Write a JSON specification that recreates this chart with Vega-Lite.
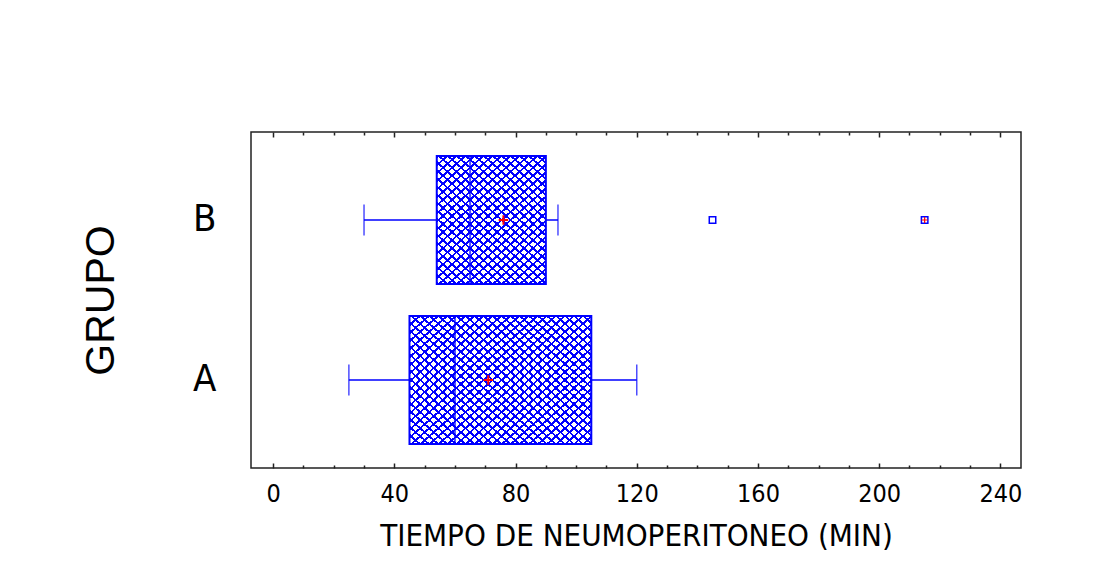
{
  "$schema": "https://vega.github.io/schema/vega-lite/v6.json",
  "width": 770,
  "height": 336,
  "autosize": {"type": "none"},
  "padding": {"left": 251, "top": 132, "right": 96, "bottom": 110},
  "background": "white",
  "config": {
    "view": {"stroke": "#222222", "strokeWidth": 1.5},
    "font": "Liberation Sans Narrow, Arial Narrow, DejaVu Sans Condensed, sans-serif"
  },
  "datasets": {
    "summary": [
      {"group": "A", "min": 25, "q1": 45, "median": 60, "q3": 105, "max": 120, "mean": 71},
      {"group": "B", "min": 30, "q1": 54, "median": 65, "q3": 90, "max": 94, "mean": 76}
    ],
    "outliers": [
      {"group": "B", "value": 145, "far": false},
      {"group": "B", "value": 215, "far": true}
    ]
  },
  "data": {"name": "summary"},
  "encoding": {
    "y": {
      "field": "group",
      "type": "nominal",
      "scale": {"domain": ["B", "A"], "paddingInner": 0.2, "paddingOuter": 0.15},
      "axis": {
        "title": "GRUPO",
        "titleFont": "Liberation Sans, Arial, sans-serif",
        "titleFontSize": 41,
        "titleFontWeight": "normal",
        "titleColor": "#000000",
        "titlePadding": 70,
        "labelFontSize": 38,
        "labelColor": "#000000",
        "labelPadding": 35,
        "labelAngle": 0,
        "ticks": false,
        "domain": false,
        "grid": false
      }
    }
  },
  "resolve": {"axis": {"x": "independent"}},
  "layer": [
    {
      "mark": {"type": "bar", "fill": "white", "stroke": null},
      "encoding": {
        "x": {
          "field": "q1", "type": "quantitative",
          "scale": {"domain": [-7.3, 246.8], "nice": false, "zero": false},
          "axis": {
            "orient": "bottom",
            "values": [0,10,20,30,40,50,60,70,80,90,100,110,120,130,140,150,160,170,180,190,200,210,220,230,240],
            "labelExpr": "datum.value % 40 === 0 ? datum.label : ''",
            "tickSize": {"condition": {"test": "datum.value % 40 === 0", "value": -5}, "value": -3},
            "tickColor": "#222222",
            "tickWidth": 1.5,
            "labelFontSize": 25,
            "labelColor": "#000000",
            "labelPadding": 18,
            "labelFlush": false,
            "domain": false,
            "grid": false,
            "title": "TIEMPO DE NEUMOPERITONEO (MIN)",
            "titleFontSize": 31,
            "titleFontWeight": "normal",
            "titleColor": "#000000",
            "titlePadding": 15
          }
        },
        "x2": {"field": "q3"}
      }
    },
    {
      "transform": [{"filter": "datum.group === 'A'"}],
      "mark": {"type": "bar", "stroke": null, "fill": {"gradient": "linear", "x1": 0, "y1": 0, "x2": 1.10, "y2": 0.872, "stops": [
        {"offset":0,"color":"#0000ff"},{"offset":0.0083,"color":"#0000ff"},{"offset":0.0083,"color":"transparent"},{"offset":0.0278,"color":"transparent"},
        {"offset":0.0278,"color":"#0000ff"},{"offset":0.0361,"color":"#0000ff"},{"offset":0.0361,"color":"transparent"},{"offset":0.0556,"color":"transparent"},
        {"offset":0.0556,"color":"#0000ff"},{"offset":0.0639,"color":"#0000ff"},{"offset":0.0639,"color":"transparent"},{"offset":0.0833,"color":"transparent"},
        {"offset":0.0833,"color":"#0000ff"},{"offset":0.0916,"color":"#0000ff"},{"offset":0.0916,"color":"transparent"},{"offset":0.1111,"color":"transparent"},
        {"offset":0.1111,"color":"#0000ff"},{"offset":0.1194,"color":"#0000ff"},{"offset":0.1194,"color":"transparent"},{"offset":0.1389,"color":"transparent"},
        {"offset":0.1389,"color":"#0000ff"},{"offset":0.1472,"color":"#0000ff"},{"offset":0.1472,"color":"transparent"},{"offset":0.1667,"color":"transparent"},
        {"offset":0.1667,"color":"#0000ff"},{"offset":0.175,"color":"#0000ff"},{"offset":0.175,"color":"transparent"},{"offset":0.1944,"color":"transparent"},
        {"offset":0.1944,"color":"#0000ff"},{"offset":0.2027,"color":"#0000ff"},{"offset":0.2027,"color":"transparent"},{"offset":0.2222,"color":"transparent"},
        {"offset":0.2222,"color":"#0000ff"},{"offset":0.2305,"color":"#0000ff"},{"offset":0.2305,"color":"transparent"},{"offset":0.25,"color":"transparent"},
        {"offset":0.25,"color":"#0000ff"},{"offset":0.2583,"color":"#0000ff"},{"offset":0.2583,"color":"transparent"},{"offset":0.2778,"color":"transparent"},
        {"offset":0.2778,"color":"#0000ff"},{"offset":0.2861,"color":"#0000ff"},{"offset":0.2861,"color":"transparent"},{"offset":0.3056,"color":"transparent"},
        {"offset":0.3056,"color":"#0000ff"},{"offset":0.3139,"color":"#0000ff"},{"offset":0.3139,"color":"transparent"},{"offset":0.3333,"color":"transparent"},
        {"offset":0.3333,"color":"#0000ff"},{"offset":0.3416,"color":"#0000ff"},{"offset":0.3416,"color":"transparent"},{"offset":0.3611,"color":"transparent"},
        {"offset":0.3611,"color":"#0000ff"},{"offset":0.3694,"color":"#0000ff"},{"offset":0.3694,"color":"transparent"},{"offset":0.3889,"color":"transparent"},
        {"offset":0.3889,"color":"#0000ff"},{"offset":0.3972,"color":"#0000ff"},{"offset":0.3972,"color":"transparent"},{"offset":0.4167,"color":"transparent"},
        {"offset":0.4167,"color":"#0000ff"},{"offset":0.425,"color":"#0000ff"},{"offset":0.425,"color":"transparent"},{"offset":0.4444,"color":"transparent"},
        {"offset":0.4444,"color":"#0000ff"},{"offset":0.4527,"color":"#0000ff"},{"offset":0.4527,"color":"transparent"},{"offset":0.4722,"color":"transparent"},
        {"offset":0.4722,"color":"#0000ff"},{"offset":0.4805,"color":"#0000ff"},{"offset":0.4805,"color":"transparent"},{"offset":0.5,"color":"transparent"},
        {"offset":0.5,"color":"#0000ff"},{"offset":0.5083,"color":"#0000ff"},{"offset":0.5083,"color":"transparent"},{"offset":0.5278,"color":"transparent"},
        {"offset":0.5278,"color":"#0000ff"},{"offset":0.5361,"color":"#0000ff"},{"offset":0.5361,"color":"transparent"},{"offset":0.5556,"color":"transparent"},
        {"offset":0.5556,"color":"#0000ff"},{"offset":0.5639,"color":"#0000ff"},{"offset":0.5639,"color":"transparent"},{"offset":0.5833,"color":"transparent"},
        {"offset":0.5833,"color":"#0000ff"},{"offset":0.5916,"color":"#0000ff"},{"offset":0.5916,"color":"transparent"},{"offset":0.6111,"color":"transparent"},
        {"offset":0.6111,"color":"#0000ff"},{"offset":0.6194,"color":"#0000ff"},{"offset":0.6194,"color":"transparent"},{"offset":0.6389,"color":"transparent"},
        {"offset":0.6389,"color":"#0000ff"},{"offset":0.6472,"color":"#0000ff"},{"offset":0.6472,"color":"transparent"},{"offset":0.6667,"color":"transparent"},
        {"offset":0.6667,"color":"#0000ff"},{"offset":0.675,"color":"#0000ff"},{"offset":0.675,"color":"transparent"},{"offset":0.6944,"color":"transparent"},
        {"offset":0.6944,"color":"#0000ff"},{"offset":0.7027,"color":"#0000ff"},{"offset":0.7027,"color":"transparent"},{"offset":0.7222,"color":"transparent"},
        {"offset":0.7222,"color":"#0000ff"},{"offset":0.7305,"color":"#0000ff"},{"offset":0.7305,"color":"transparent"},{"offset":0.75,"color":"transparent"},
        {"offset":0.75,"color":"#0000ff"},{"offset":0.7583,"color":"#0000ff"},{"offset":0.7583,"color":"transparent"},{"offset":0.7778,"color":"transparent"},
        {"offset":0.7778,"color":"#0000ff"},{"offset":0.7861,"color":"#0000ff"},{"offset":0.7861,"color":"transparent"},{"offset":0.8056,"color":"transparent"},
        {"offset":0.8056,"color":"#0000ff"},{"offset":0.8139,"color":"#0000ff"},{"offset":0.8139,"color":"transparent"},{"offset":0.8333,"color":"transparent"},
        {"offset":0.8333,"color":"#0000ff"},{"offset":0.8416,"color":"#0000ff"},{"offset":0.8416,"color":"transparent"},{"offset":0.8611,"color":"transparent"},
        {"offset":0.8611,"color":"#0000ff"},{"offset":0.8694,"color":"#0000ff"},{"offset":0.8694,"color":"transparent"},{"offset":0.8889,"color":"transparent"},
        {"offset":0.8889,"color":"#0000ff"},{"offset":0.8972,"color":"#0000ff"},{"offset":0.8972,"color":"transparent"},{"offset":0.9167,"color":"transparent"},
        {"offset":0.9167,"color":"#0000ff"},{"offset":0.925,"color":"#0000ff"},{"offset":0.925,"color":"transparent"},{"offset":0.9444,"color":"transparent"},
        {"offset":0.9444,"color":"#0000ff"},{"offset":0.9527,"color":"#0000ff"},{"offset":0.9527,"color":"transparent"},{"offset":0.9722,"color":"transparent"},
        {"offset":0.9722,"color":"#0000ff"},{"offset":0.9805,"color":"#0000ff"},{"offset":0.9805,"color":"transparent"},{"offset":1,"color":"transparent"}
      ]}},
      "encoding": {
        "x": {"field": "q1", "type": "quantitative", "scale": {"domain": [-7.3, 246.8], "nice": false, "zero": false}, "axis": null},
        "x2": {"field": "q3"}
      }
    },
    {
      "transform": [{"filter": "datum.group === 'A'"}],
      "mark": {"type": "bar", "stroke": null, "fill": {"gradient": "linear", "x1": 0, "y1": 1, "x2": 1.10, "y2": 0.128, "stops": [
        {"offset":0,"color":"#0000ff"},{"offset":0.0083,"color":"#0000ff"},{"offset":0.0083,"color":"transparent"},{"offset":0.0278,"color":"transparent"},
        {"offset":0.0278,"color":"#0000ff"},{"offset":0.0361,"color":"#0000ff"},{"offset":0.0361,"color":"transparent"},{"offset":0.0556,"color":"transparent"},
        {"offset":0.0556,"color":"#0000ff"},{"offset":0.0639,"color":"#0000ff"},{"offset":0.0639,"color":"transparent"},{"offset":0.0833,"color":"transparent"},
        {"offset":0.0833,"color":"#0000ff"},{"offset":0.0916,"color":"#0000ff"},{"offset":0.0916,"color":"transparent"},{"offset":0.1111,"color":"transparent"},
        {"offset":0.1111,"color":"#0000ff"},{"offset":0.1194,"color":"#0000ff"},{"offset":0.1194,"color":"transparent"},{"offset":0.1389,"color":"transparent"},
        {"offset":0.1389,"color":"#0000ff"},{"offset":0.1472,"color":"#0000ff"},{"offset":0.1472,"color":"transparent"},{"offset":0.1667,"color":"transparent"},
        {"offset":0.1667,"color":"#0000ff"},{"offset":0.175,"color":"#0000ff"},{"offset":0.175,"color":"transparent"},{"offset":0.1944,"color":"transparent"},
        {"offset":0.1944,"color":"#0000ff"},{"offset":0.2027,"color":"#0000ff"},{"offset":0.2027,"color":"transparent"},{"offset":0.2222,"color":"transparent"},
        {"offset":0.2222,"color":"#0000ff"},{"offset":0.2305,"color":"#0000ff"},{"offset":0.2305,"color":"transparent"},{"offset":0.25,"color":"transparent"},
        {"offset":0.25,"color":"#0000ff"},{"offset":0.2583,"color":"#0000ff"},{"offset":0.2583,"color":"transparent"},{"offset":0.2778,"color":"transparent"},
        {"offset":0.2778,"color":"#0000ff"},{"offset":0.2861,"color":"#0000ff"},{"offset":0.2861,"color":"transparent"},{"offset":0.3056,"color":"transparent"},
        {"offset":0.3056,"color":"#0000ff"},{"offset":0.3139,"color":"#0000ff"},{"offset":0.3139,"color":"transparent"},{"offset":0.3333,"color":"transparent"},
        {"offset":0.3333,"color":"#0000ff"},{"offset":0.3416,"color":"#0000ff"},{"offset":0.3416,"color":"transparent"},{"offset":0.3611,"color":"transparent"},
        {"offset":0.3611,"color":"#0000ff"},{"offset":0.3694,"color":"#0000ff"},{"offset":0.3694,"color":"transparent"},{"offset":0.3889,"color":"transparent"},
        {"offset":0.3889,"color":"#0000ff"},{"offset":0.3972,"color":"#0000ff"},{"offset":0.3972,"color":"transparent"},{"offset":0.4167,"color":"transparent"},
        {"offset":0.4167,"color":"#0000ff"},{"offset":0.425,"color":"#0000ff"},{"offset":0.425,"color":"transparent"},{"offset":0.4444,"color":"transparent"},
        {"offset":0.4444,"color":"#0000ff"},{"offset":0.4527,"color":"#0000ff"},{"offset":0.4527,"color":"transparent"},{"offset":0.4722,"color":"transparent"},
        {"offset":0.4722,"color":"#0000ff"},{"offset":0.4805,"color":"#0000ff"},{"offset":0.4805,"color":"transparent"},{"offset":0.5,"color":"transparent"},
        {"offset":0.5,"color":"#0000ff"},{"offset":0.5083,"color":"#0000ff"},{"offset":0.5083,"color":"transparent"},{"offset":0.5278,"color":"transparent"},
        {"offset":0.5278,"color":"#0000ff"},{"offset":0.5361,"color":"#0000ff"},{"offset":0.5361,"color":"transparent"},{"offset":0.5556,"color":"transparent"},
        {"offset":0.5556,"color":"#0000ff"},{"offset":0.5639,"color":"#0000ff"},{"offset":0.5639,"color":"transparent"},{"offset":0.5833,"color":"transparent"},
        {"offset":0.5833,"color":"#0000ff"},{"offset":0.5916,"color":"#0000ff"},{"offset":0.5916,"color":"transparent"},{"offset":0.6111,"color":"transparent"},
        {"offset":0.6111,"color":"#0000ff"},{"offset":0.6194,"color":"#0000ff"},{"offset":0.6194,"color":"transparent"},{"offset":0.6389,"color":"transparent"},
        {"offset":0.6389,"color":"#0000ff"},{"offset":0.6472,"color":"#0000ff"},{"offset":0.6472,"color":"transparent"},{"offset":0.6667,"color":"transparent"},
        {"offset":0.6667,"color":"#0000ff"},{"offset":0.675,"color":"#0000ff"},{"offset":0.675,"color":"transparent"},{"offset":0.6944,"color":"transparent"},
        {"offset":0.6944,"color":"#0000ff"},{"offset":0.7027,"color":"#0000ff"},{"offset":0.7027,"color":"transparent"},{"offset":0.7222,"color":"transparent"},
        {"offset":0.7222,"color":"#0000ff"},{"offset":0.7305,"color":"#0000ff"},{"offset":0.7305,"color":"transparent"},{"offset":0.75,"color":"transparent"},
        {"offset":0.75,"color":"#0000ff"},{"offset":0.7583,"color":"#0000ff"},{"offset":0.7583,"color":"transparent"},{"offset":0.7778,"color":"transparent"},
        {"offset":0.7778,"color":"#0000ff"},{"offset":0.7861,"color":"#0000ff"},{"offset":0.7861,"color":"transparent"},{"offset":0.8056,"color":"transparent"},
        {"offset":0.8056,"color":"#0000ff"},{"offset":0.8139,"color":"#0000ff"},{"offset":0.8139,"color":"transparent"},{"offset":0.8333,"color":"transparent"},
        {"offset":0.8333,"color":"#0000ff"},{"offset":0.8416,"color":"#0000ff"},{"offset":0.8416,"color":"transparent"},{"offset":0.8611,"color":"transparent"},
        {"offset":0.8611,"color":"#0000ff"},{"offset":0.8694,"color":"#0000ff"},{"offset":0.8694,"color":"transparent"},{"offset":0.8889,"color":"transparent"},
        {"offset":0.8889,"color":"#0000ff"},{"offset":0.8972,"color":"#0000ff"},{"offset":0.8972,"color":"transparent"},{"offset":0.9167,"color":"transparent"},
        {"offset":0.9167,"color":"#0000ff"},{"offset":0.925,"color":"#0000ff"},{"offset":0.925,"color":"transparent"},{"offset":0.9444,"color":"transparent"},
        {"offset":0.9444,"color":"#0000ff"},{"offset":0.9527,"color":"#0000ff"},{"offset":0.9527,"color":"transparent"},{"offset":0.9722,"color":"transparent"},
        {"offset":0.9722,"color":"#0000ff"},{"offset":0.9805,"color":"#0000ff"},{"offset":0.9805,"color":"transparent"},{"offset":1,"color":"transparent"}
      ]}},
      "encoding": {
        "x": {"field": "q1", "type": "quantitative", "scale": {"domain": [-7.3, 246.8], "nice": false, "zero": false}, "axis": null},
        "x2": {"field": "q3"}
      }
    },
    {
      "transform": [{"filter": "datum.group === 'B'"}],
      "mark": {"type": "bar", "stroke": null, "fill": {"gradient": "linear", "x1": 0, "y1": 0, "x2": 0.849, "y2": 1.114, "stops": [
        {"offset":0,"color":"#0000ff"},{"offset":0.0107,"color":"#0000ff"},{"offset":0.0107,"color":"transparent"},{"offset":0.0357,"color":"transparent"},
        {"offset":0.0357,"color":"#0000ff"},{"offset":0.0464,"color":"#0000ff"},{"offset":0.0464,"color":"transparent"},{"offset":0.0714,"color":"transparent"},
        {"offset":0.0714,"color":"#0000ff"},{"offset":0.0821,"color":"#0000ff"},{"offset":0.0821,"color":"transparent"},{"offset":0.1071,"color":"transparent"},
        {"offset":0.1071,"color":"#0000ff"},{"offset":0.1178,"color":"#0000ff"},{"offset":0.1178,"color":"transparent"},{"offset":0.1429,"color":"transparent"},
        {"offset":0.1429,"color":"#0000ff"},{"offset":0.1536,"color":"#0000ff"},{"offset":0.1536,"color":"transparent"},{"offset":0.1786,"color":"transparent"},
        {"offset":0.1786,"color":"#0000ff"},{"offset":0.1893,"color":"#0000ff"},{"offset":0.1893,"color":"transparent"},{"offset":0.2143,"color":"transparent"},
        {"offset":0.2143,"color":"#0000ff"},{"offset":0.225,"color":"#0000ff"},{"offset":0.225,"color":"transparent"},{"offset":0.25,"color":"transparent"},
        {"offset":0.25,"color":"#0000ff"},{"offset":0.2607,"color":"#0000ff"},{"offset":0.2607,"color":"transparent"},{"offset":0.2857,"color":"transparent"},
        {"offset":0.2857,"color":"#0000ff"},{"offset":0.2964,"color":"#0000ff"},{"offset":0.2964,"color":"transparent"},{"offset":0.3214,"color":"transparent"},
        {"offset":0.3214,"color":"#0000ff"},{"offset":0.3321,"color":"#0000ff"},{"offset":0.3321,"color":"transparent"},{"offset":0.3571,"color":"transparent"},
        {"offset":0.3571,"color":"#0000ff"},{"offset":0.3678,"color":"#0000ff"},{"offset":0.3678,"color":"transparent"},{"offset":0.3929,"color":"transparent"},
        {"offset":0.3929,"color":"#0000ff"},{"offset":0.4036,"color":"#0000ff"},{"offset":0.4036,"color":"transparent"},{"offset":0.4286,"color":"transparent"},
        {"offset":0.4286,"color":"#0000ff"},{"offset":0.4393,"color":"#0000ff"},{"offset":0.4393,"color":"transparent"},{"offset":0.4643,"color":"transparent"},
        {"offset":0.4643,"color":"#0000ff"},{"offset":0.475,"color":"#0000ff"},{"offset":0.475,"color":"transparent"},{"offset":0.5,"color":"transparent"},
        {"offset":0.5,"color":"#0000ff"},{"offset":0.5107,"color":"#0000ff"},{"offset":0.5107,"color":"transparent"},{"offset":0.5357,"color":"transparent"},
        {"offset":0.5357,"color":"#0000ff"},{"offset":0.5464,"color":"#0000ff"},{"offset":0.5464,"color":"transparent"},{"offset":0.5714,"color":"transparent"},
        {"offset":0.5714,"color":"#0000ff"},{"offset":0.5821,"color":"#0000ff"},{"offset":0.5821,"color":"transparent"},{"offset":0.6071,"color":"transparent"},
        {"offset":0.6071,"color":"#0000ff"},{"offset":0.6178,"color":"#0000ff"},{"offset":0.6178,"color":"transparent"},{"offset":0.6429,"color":"transparent"},
        {"offset":0.6429,"color":"#0000ff"},{"offset":0.6536,"color":"#0000ff"},{"offset":0.6536,"color":"transparent"},{"offset":0.6786,"color":"transparent"},
        {"offset":0.6786,"color":"#0000ff"},{"offset":0.6893,"color":"#0000ff"},{"offset":0.6893,"color":"transparent"},{"offset":0.7143,"color":"transparent"},
        {"offset":0.7143,"color":"#0000ff"},{"offset":0.725,"color":"#0000ff"},{"offset":0.725,"color":"transparent"},{"offset":0.75,"color":"transparent"},
        {"offset":0.75,"color":"#0000ff"},{"offset":0.7607,"color":"#0000ff"},{"offset":0.7607,"color":"transparent"},{"offset":0.7857,"color":"transparent"},
        {"offset":0.7857,"color":"#0000ff"},{"offset":0.7964,"color":"#0000ff"},{"offset":0.7964,"color":"transparent"},{"offset":0.8214,"color":"transparent"},
        {"offset":0.8214,"color":"#0000ff"},{"offset":0.8321,"color":"#0000ff"},{"offset":0.8321,"color":"transparent"},{"offset":0.8571,"color":"transparent"},
        {"offset":0.8571,"color":"#0000ff"},{"offset":0.8678,"color":"#0000ff"},{"offset":0.8678,"color":"transparent"},{"offset":0.8929,"color":"transparent"},
        {"offset":0.8929,"color":"#0000ff"},{"offset":0.9036,"color":"#0000ff"},{"offset":0.9036,"color":"transparent"},{"offset":0.9286,"color":"transparent"},
        {"offset":0.9286,"color":"#0000ff"},{"offset":0.9393,"color":"#0000ff"},{"offset":0.9393,"color":"transparent"},{"offset":0.9643,"color":"transparent"},
        {"offset":0.9643,"color":"#0000ff"},{"offset":0.975,"color":"#0000ff"},{"offset":0.975,"color":"transparent"},{"offset":1,"color":"transparent"}
      ]}},
      "encoding": {
        "x": {"field": "q1", "type": "quantitative", "scale": {"domain": [-7.3, 246.8], "nice": false, "zero": false}, "axis": null},
        "x2": {"field": "q3"}
      }
    },
    {
      "transform": [{"filter": "datum.group === 'B'"}],
      "mark": {"type": "bar", "stroke": null, "fill": {"gradient": "linear", "x1": 0, "y1": 1, "x2": 0.849, "y2": -0.114, "stops": [
        {"offset":0,"color":"#0000ff"},{"offset":0.0107,"color":"#0000ff"},{"offset":0.0107,"color":"transparent"},{"offset":0.0357,"color":"transparent"},
        {"offset":0.0357,"color":"#0000ff"},{"offset":0.0464,"color":"#0000ff"},{"offset":0.0464,"color":"transparent"},{"offset":0.0714,"color":"transparent"},
        {"offset":0.0714,"color":"#0000ff"},{"offset":0.0821,"color":"#0000ff"},{"offset":0.0821,"color":"transparent"},{"offset":0.1071,"color":"transparent"},
        {"offset":0.1071,"color":"#0000ff"},{"offset":0.1178,"color":"#0000ff"},{"offset":0.1178,"color":"transparent"},{"offset":0.1429,"color":"transparent"},
        {"offset":0.1429,"color":"#0000ff"},{"offset":0.1536,"color":"#0000ff"},{"offset":0.1536,"color":"transparent"},{"offset":0.1786,"color":"transparent"},
        {"offset":0.1786,"color":"#0000ff"},{"offset":0.1893,"color":"#0000ff"},{"offset":0.1893,"color":"transparent"},{"offset":0.2143,"color":"transparent"},
        {"offset":0.2143,"color":"#0000ff"},{"offset":0.225,"color":"#0000ff"},{"offset":0.225,"color":"transparent"},{"offset":0.25,"color":"transparent"},
        {"offset":0.25,"color":"#0000ff"},{"offset":0.2607,"color":"#0000ff"},{"offset":0.2607,"color":"transparent"},{"offset":0.2857,"color":"transparent"},
        {"offset":0.2857,"color":"#0000ff"},{"offset":0.2964,"color":"#0000ff"},{"offset":0.2964,"color":"transparent"},{"offset":0.3214,"color":"transparent"},
        {"offset":0.3214,"color":"#0000ff"},{"offset":0.3321,"color":"#0000ff"},{"offset":0.3321,"color":"transparent"},{"offset":0.3571,"color":"transparent"},
        {"offset":0.3571,"color":"#0000ff"},{"offset":0.3678,"color":"#0000ff"},{"offset":0.3678,"color":"transparent"},{"offset":0.3929,"color":"transparent"},
        {"offset":0.3929,"color":"#0000ff"},{"offset":0.4036,"color":"#0000ff"},{"offset":0.4036,"color":"transparent"},{"offset":0.4286,"color":"transparent"},
        {"offset":0.4286,"color":"#0000ff"},{"offset":0.4393,"color":"#0000ff"},{"offset":0.4393,"color":"transparent"},{"offset":0.4643,"color":"transparent"},
        {"offset":0.4643,"color":"#0000ff"},{"offset":0.475,"color":"#0000ff"},{"offset":0.475,"color":"transparent"},{"offset":0.5,"color":"transparent"},
        {"offset":0.5,"color":"#0000ff"},{"offset":0.5107,"color":"#0000ff"},{"offset":0.5107,"color":"transparent"},{"offset":0.5357,"color":"transparent"},
        {"offset":0.5357,"color":"#0000ff"},{"offset":0.5464,"color":"#0000ff"},{"offset":0.5464,"color":"transparent"},{"offset":0.5714,"color":"transparent"},
        {"offset":0.5714,"color":"#0000ff"},{"offset":0.5821,"color":"#0000ff"},{"offset":0.5821,"color":"transparent"},{"offset":0.6071,"color":"transparent"},
        {"offset":0.6071,"color":"#0000ff"},{"offset":0.6178,"color":"#0000ff"},{"offset":0.6178,"color":"transparent"},{"offset":0.6429,"color":"transparent"},
        {"offset":0.6429,"color":"#0000ff"},{"offset":0.6536,"color":"#0000ff"},{"offset":0.6536,"color":"transparent"},{"offset":0.6786,"color":"transparent"},
        {"offset":0.6786,"color":"#0000ff"},{"offset":0.6893,"color":"#0000ff"},{"offset":0.6893,"color":"transparent"},{"offset":0.7143,"color":"transparent"},
        {"offset":0.7143,"color":"#0000ff"},{"offset":0.725,"color":"#0000ff"},{"offset":0.725,"color":"transparent"},{"offset":0.75,"color":"transparent"},
        {"offset":0.75,"color":"#0000ff"},{"offset":0.7607,"color":"#0000ff"},{"offset":0.7607,"color":"transparent"},{"offset":0.7857,"color":"transparent"},
        {"offset":0.7857,"color":"#0000ff"},{"offset":0.7964,"color":"#0000ff"},{"offset":0.7964,"color":"transparent"},{"offset":0.8214,"color":"transparent"},
        {"offset":0.8214,"color":"#0000ff"},{"offset":0.8321,"color":"#0000ff"},{"offset":0.8321,"color":"transparent"},{"offset":0.8571,"color":"transparent"},
        {"offset":0.8571,"color":"#0000ff"},{"offset":0.8678,"color":"#0000ff"},{"offset":0.8678,"color":"transparent"},{"offset":0.8929,"color":"transparent"},
        {"offset":0.8929,"color":"#0000ff"},{"offset":0.9036,"color":"#0000ff"},{"offset":0.9036,"color":"transparent"},{"offset":0.9286,"color":"transparent"},
        {"offset":0.9286,"color":"#0000ff"},{"offset":0.9393,"color":"#0000ff"},{"offset":0.9393,"color":"transparent"},{"offset":0.9643,"color":"transparent"},
        {"offset":0.9643,"color":"#0000ff"},{"offset":0.975,"color":"#0000ff"},{"offset":0.975,"color":"transparent"},{"offset":1,"color":"transparent"}
      ]}},
      "encoding": {
        "x": {"field": "q1", "type": "quantitative", "scale": {"domain": [-7.3, 246.8], "nice": false, "zero": false}, "axis": null},
        "x2": {"field": "q3"}
      }
    },
    {
      "mark": {"type": "bar", "fill": null, "stroke": "#0000ff", "strokeWidth": 2},
      "encoding": {
        "x": {"field": "q1", "type": "quantitative", "scale": {"domain": [-7.3, 246.8], "nice": false, "zero": false}, "axis": null},
        "x2": {"field": "q3"}
      }
    },
    {
      "mark": {"type": "rule", "color": "#0000ff", "strokeWidth": 1.5},
      "encoding": {
        "x": {
          "field": "min", "type": "quantitative",
          "scale": {"domain": [-7.3, 246.8], "nice": false, "zero": false},
          "axis": {
            "orient": "top",
            "values": [0,10,20,30,40,50,60,70,80,90,100,110,120,130,140,150,160,170,180,190,200,210,220,230,240],
            "labels": false,
            "tickSize": {"condition": {"test": "datum.value % 40 === 0", "value": -5}, "value": -3},
            "tickColor": "#222222",
            "tickWidth": 1.5,
            "domain": false,
            "grid": false,
            "title": null
          }
        },
        "x2": {"field": "q1"}
      }
    },
    {
      "mark": {"type": "rule", "color": "#0000ff", "strokeWidth": 1.5},
      "encoding": {
        "x": {"field": "q3", "type": "quantitative", "scale": {"domain": [-7.3, 246.8], "nice": false, "zero": false}, "axis": null},
        "x2": {"field": "max"}
      }
    },
    {
      "mark": {"type": "tick", "color": "#0000ff", "size": 31, "thickness": 1.5},
      "encoding": {
        "x": {"field": "min", "type": "quantitative", "scale": {"domain": [-7.3, 246.8], "nice": false, "zero": false}, "axis": null}
      }
    },
    {
      "mark": {"type": "tick", "color": "#0000ff", "size": 31, "thickness": 1.5},
      "encoding": {
        "x": {"field": "max", "type": "quantitative", "scale": {"domain": [-7.3, 246.8], "nice": false, "zero": false}, "axis": null}
      }
    },
    {
      "mark": {"type": "tick", "color": "#0000ff", "size": 128, "thickness": 2},
      "encoding": {
        "x": {"field": "median", "type": "quantitative", "scale": {"domain": [-7.3, 246.8], "nice": false, "zero": false}, "axis": null}
      }
    },
    {
      "mark": {"type": "point", "shape": "M-1,0H1M0,-1V1", "filled": false, "stroke": "#ff0000", "strokeWidth": 2, "size": 90, "opacity": 1},
      "encoding": {
        "x": {"field": "mean", "type": "quantitative", "scale": {"domain": [-7.3, 246.8], "nice": false, "zero": false}, "axis": null}
      }
    },
    {
      "data": {"name": "outliers"},
      "mark": {"type": "point", "shape": "square", "filled": true, "fill": "white", "stroke": "#0000ff", "strokeWidth": 1.5, "size": 42, "opacity": 1},
      "encoding": {
        "x": {"field": "value", "type": "quantitative", "scale": {"domain": [-7.3, 246.8], "nice": false, "zero": false}, "axis": null}
      }
    },
    {
      "data": {"name": "outliers"},
      "transform": [{"filter": "datum.far"}],
      "mark": {"type": "point", "shape": "M-1,0H1M0,-1V1", "filled": false, "stroke": "#ff0000", "strokeWidth": 1.2, "size": 36, "opacity": 1},
      "encoding": {
        "x": {"field": "value", "type": "quantitative", "scale": {"domain": [-7.3, 246.8], "nice": false, "zero": false}, "axis": null}
      }
    }
  ]
}
